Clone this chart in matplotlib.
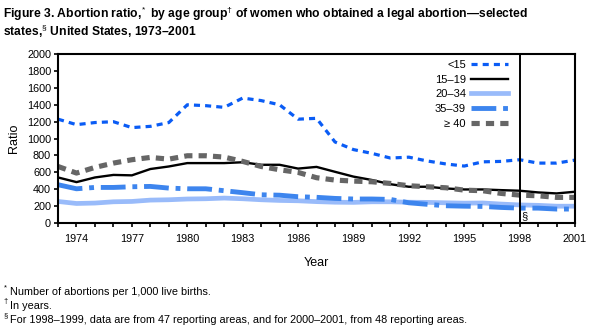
import matplotlib
matplotlib.use("Agg")
import matplotlib.pyplot as plt
import numpy as np

plt.rcParams['font.family'] = ['Liberation Sans', 'DejaVu Sans']
plt.rcParams['mathtext.fontset'] = 'custom'
plt.rcParams['mathtext.rm'] = 'Liberation Sans'
plt.rcParams['mathtext.bf'] = 'Liberation Sans:bold'
plt.rcParams['mathtext.it'] = 'Liberation Sans'

years = list(range(1973, 2002))
under15 = [1230, 1165, 1190, 1200, 1130, 1145, 1190, 1400, 1390, 1370, 1480, 1450, 1400,
           1230, 1240, 960, 870, 825, 770, 780, 735, 700, 675, 725, 730, 750, 710, 710, 745]
age15_19 = [540, 485, 540, 570, 565, 640, 670, 710, 710, 710, 720, 690, 690,
            645, 665, 607, 550, 510, 460, 430, 430, 410, 398, 398, 390, 383, 363, 351, 371]
age20_34 = [256, 232, 237, 252, 256, 272, 276, 285, 288, 296, 288, 276, 268,
            264, 254, 247, 245, 252, 252, 247, 245, 240, 236, 238, 225, 215, 210, 200, 200]
age35_39 = [454, 406, 422, 422, 430, 434, 414, 406, 406, 383, 360, 335, 330,
            312, 305, 292, 285, 285, 280, 240, 222, 205, 200, 197, 185, 177, 177, 166, 166]
age40 = [670, 592, 659, 710, 750, 777, 757, 797, 797, 781, 730, 670, 631,
         600, 537, 509, 497, 489, 469, 442, 430, 418, 390, 383, 351, 331, 323, 304, 304]

labels = ['<15', '15\u201319', '20\u201334', '35\u201339', '\u2265 40']

fig = plt.figure(figsize=(5.97, 3.30), dpi=100)
ax = fig.add_axes([0.0972, 0.324, 0.8660, 0.512])

ax.plot(years, under15, color='#0a5cf5', lw=2.3, dashes=(1.9, 1.6), label=labels[0])
ax.plot(years, age15_19, color='black', lw=1.7, label=labels[1])
ax.plot(years, age20_34, color='#99bbfa', lw=3.4, label=labels[2])
ax.plot(years, age35_39, color='#3d85ee', lw=3.5, dashes=(5.1, 1.4, 1.0, 1.4), label=labels[3])
ax.plot(years, age40, color='#666666', lw=3.7, dashes=(1.6, 1.2), label=labels[4])

ax.axvline(1998, color='black', lw=1.4)
ax.text(1998.1, 80, '\u00a7', fontsize=8, va='center', ha='left')

ax.set_xlim(1973, 2001)
ax.set_ylim(0, 2000)
ax.set_yticks(np.arange(0, 2001, 200))
ax.set_xticks(years, minor=False)
ax.set_xticklabels([str(y) if (y - 1974) % 3 == 0 else '' for y in years])
ax.tick_params(axis='both', direction='out', length=3, width=1.2, labelsize=7.8, pad=2)
ax.tick_params(axis='x', pad=5)
for s in ax.spines.values():
    s.set_linewidth(1.5)

ax.set_ylabel('Ratio', fontsize=9, labelpad=5)
ax.set_xlabel('Year', fontsize=9, labelpad=9)

leg = ax.legend(loc='upper right', bbox_to_anchor=(0.89, 1.025), frameon=False, markerfirst=False,
                fontsize=8, handlelength=3.3, labelspacing=0.42, handletextpad=0.5)

fig.text(0.005, 0.985, 'Figure 3. Abortion ratio,$^*$ by age group$^{\u2020}$ of women who obtained a legal abortion\u2014selected\nstates,$^{\u00a7}$ United States, 1973\u20132001',
         fontsize=8.7, fontweight='bold', va='top', ha='left', linespacing=1.0)

# footnotes: small symbol raised, then the text
notes = [('*', 'Number of abortions per 1,000 live births.', 0.115),
         ('\u2020', 'In years.', 0.073),
         ('\u00a7', 'For 1998\u20131999, data are from 47 reporting areas, and for 2000\u20132001, from 48 reporting areas.', 0.031)]
for sym, txt, y in notes:
    fig.text(0.006, y + 0.012, sym, fontsize=5.5, va='center')
    fig.text(0.016, y, txt, fontsize=7.8, va='center')

fig.savefig('out.png', dpi=100)
